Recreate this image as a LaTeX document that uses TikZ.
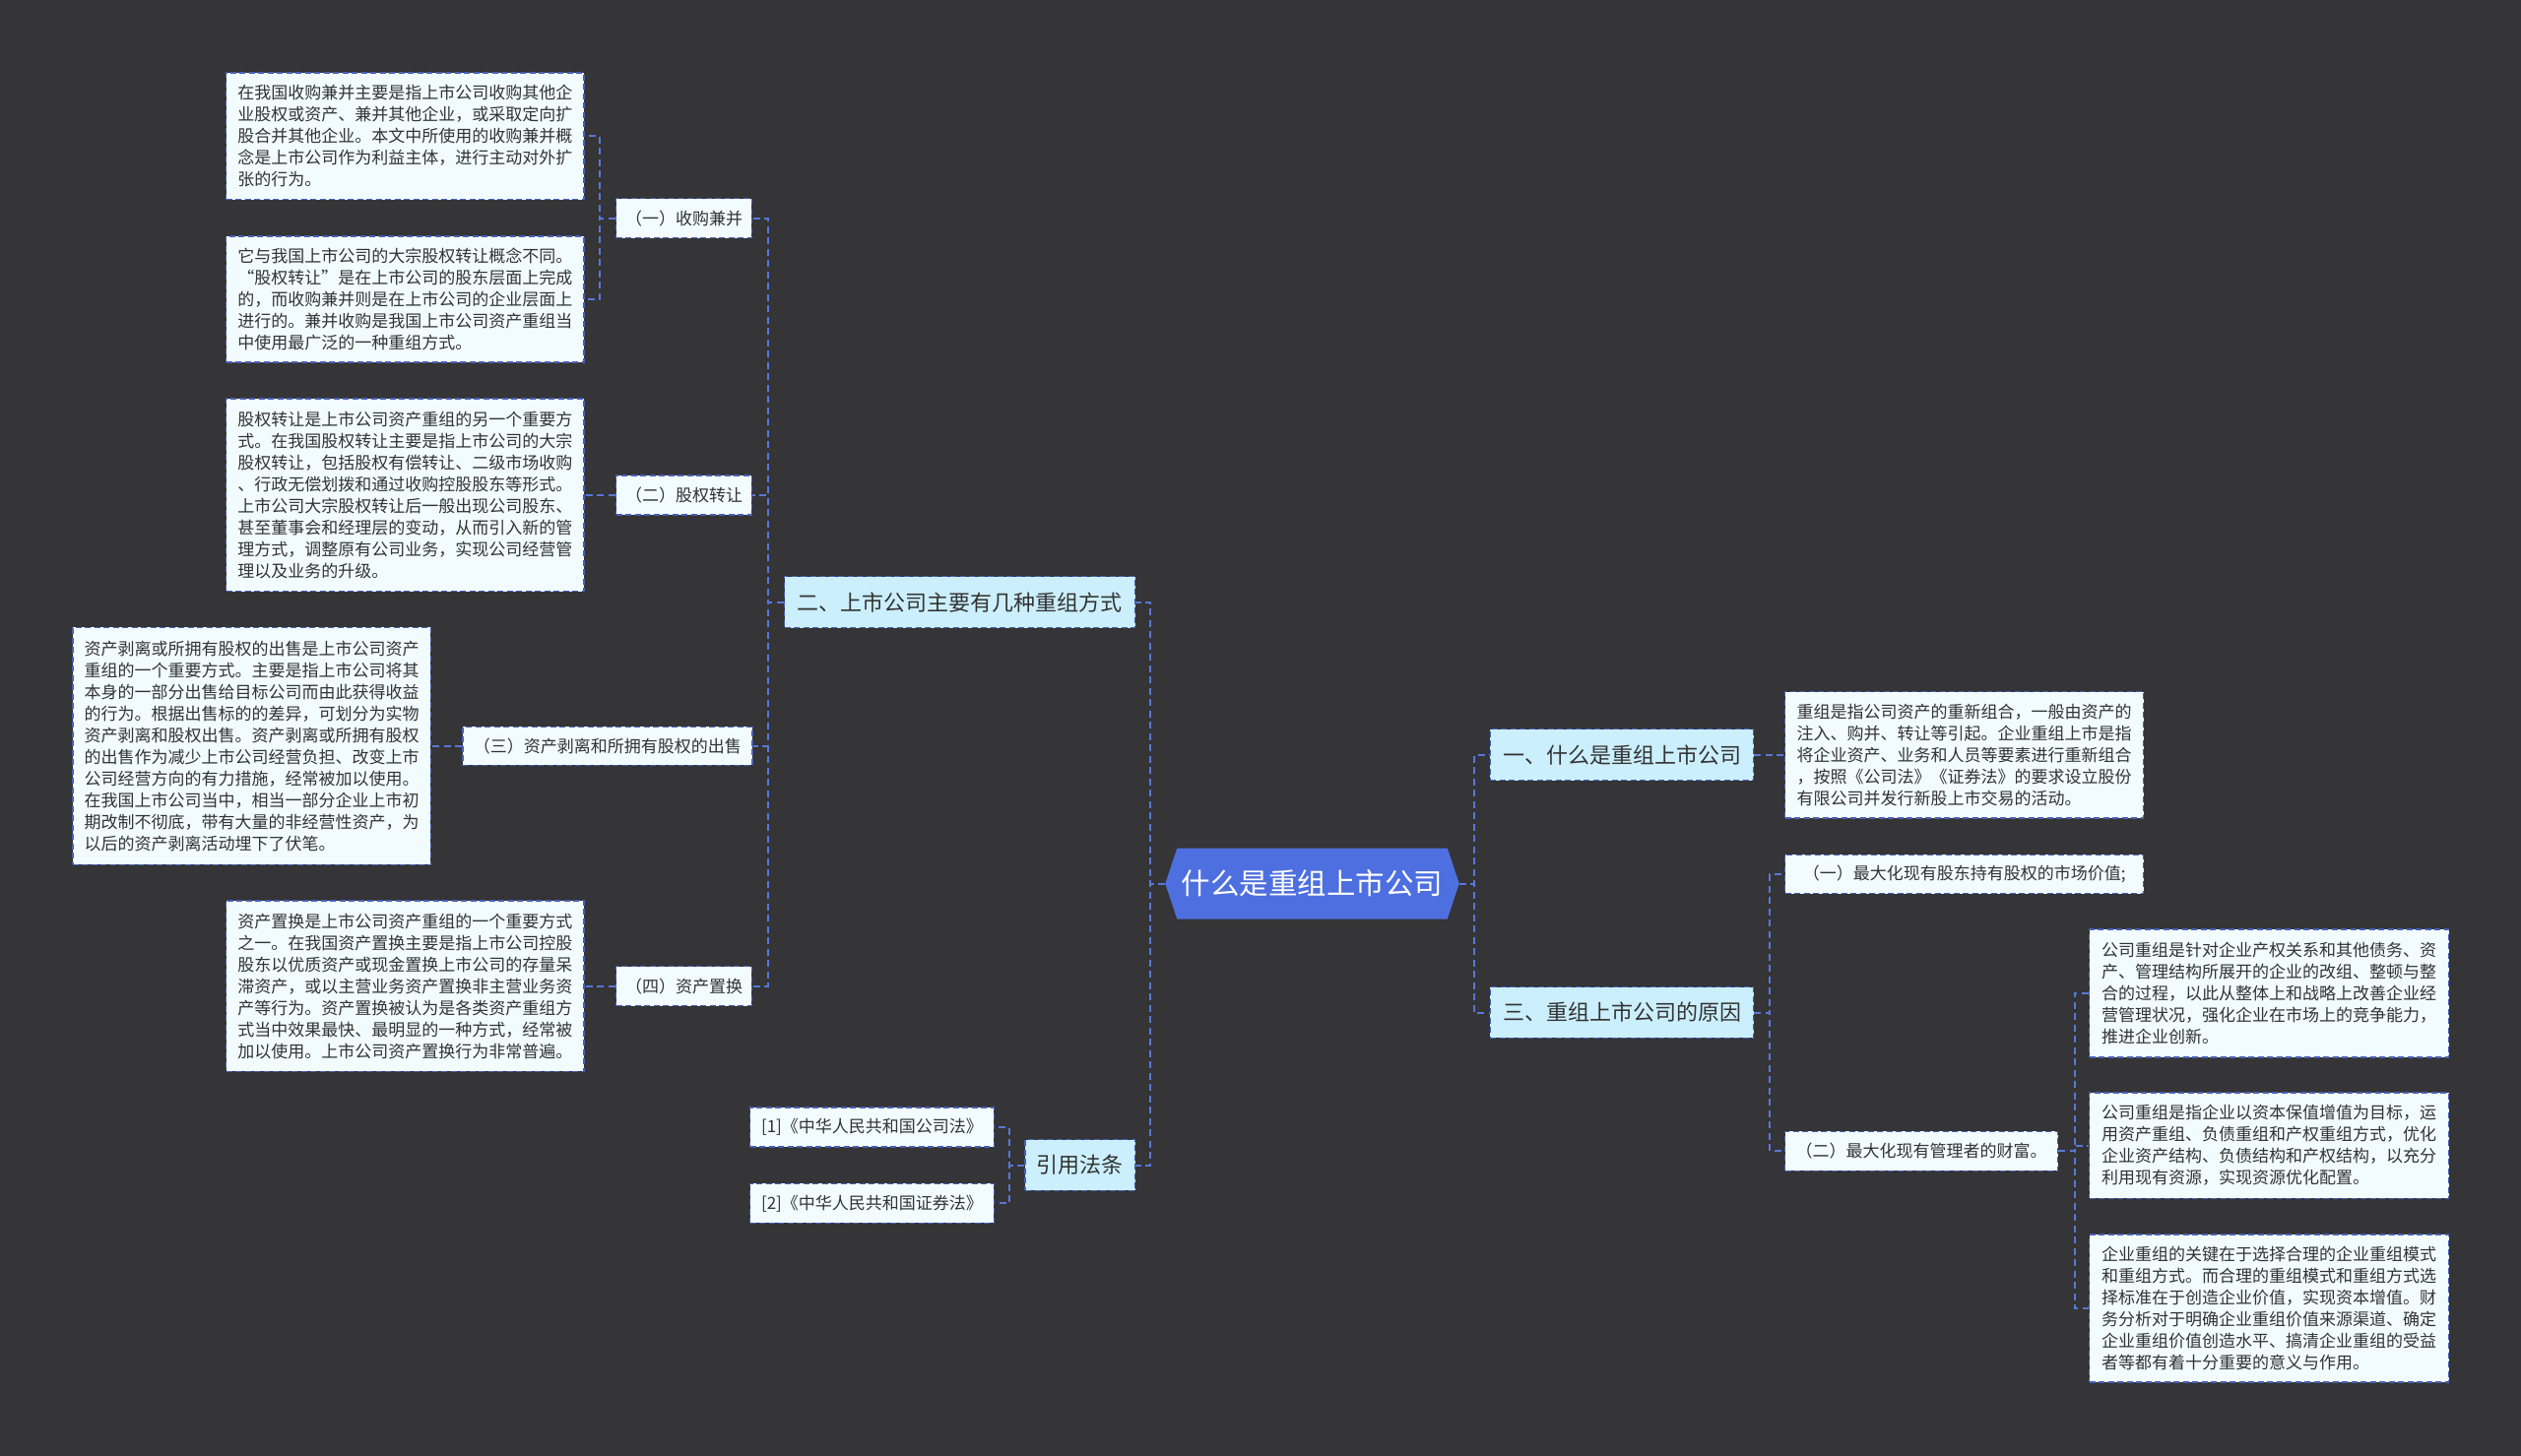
\documentclass[tikz,border=0pt]{standalone}
\usepackage{fontspec}
\newfontfamily\cjk{Noto Sans CJK SC}
\usetikzlibrary{backgrounds}
\definecolor{bgc}{HTML}{353436}
\definecolor{leaffill}{HTML}{F2FBFE}
\definecolor{lonefill}{HTML}{CBEFFC}
\definecolor{rootfill}{HTML}{4E6FDF}
\definecolor{bordc}{HTML}{4660B8}
\definecolor{connc}{HTML}{5877DA}
\definecolor{txt}{HTML}{333333}
\tikzset{
  box/.style={draw=bordc, line width=1.5pt, dash pattern=on 6pt off 3.5pt, inner sep=0pt, text=txt},
  leaf/.style={box, fill=leaffill, align=left, font=\cjk\fontsize{17}{22}\selectfont},
  subbox/.style={box, fill=leaffill, align=center, font=\cjk\fontsize{17}{22}\selectfont},
  lvlbox/.style={box, fill=lonefill, align=center, font=\cjk\fontsize{22}{26}\selectfont},
  rootbox/.style={inner sep=0pt, text=white, font=\cjk\fontsize{29.5}{34}\selectfont},
  conn/.style={draw=connc, line width=2pt, dash pattern=on 7pt off 4.5pt},
}
\begin{document}
\begin{tikzpicture}[x=1pt,y=-1pt]
\useasboundingbox (0,0) rectangle (2560,1479);
\begin{scope}[on background layer]
\fill[bgc] (0,0) rectangle (2560,1479);
\end{scope}

% root
\node[rootbox, minimum width=298.1pt, minimum height=71.6pt] (root) at (1332.55,897.5) {什么是重组上市公司};
\begin{scope}[on background layer]
\fill[rootfill] (root.west) -- ([xshift=12pt]root.north west) -- ([xshift=-12pt]root.north east) -- (root.east) -- ([xshift=-12pt]root.south east) -- ([xshift=12pt]root.south west) -- cycle;
\end{scope}

% level 1
\node[lvlbox, minimum width=355.8pt, minimum height=52pt] (L1) at (974.6,611.7) {二、上市公司主要有几种重组方式};
\node[lvlbox, minimum width=111.7pt, minimum height=51.6pt] (L2) at (1096.85,1183.5) {引用法条};
\node[lvlbox, minimum width=267.4pt, minimum height=52pt] (R1) at (1647,766.7) {一、什么是重组上市公司};
\node[lvlbox, minimum width=267.4pt, minimum height=51.6pt] (R3) at (1647,1028.5) {三、重组上市公司的原因};

% level 2 left
\node[subbox, minimum width=137.7pt, minimum height=40pt] (N1) at (694.55,221.7) {（一）收购兼并};
\node[subbox, minimum width=137.7pt, minimum height=40pt] (N2) at (694.55,502.85) {（二）股权转让};
\node[subbox, minimum width=293.9pt, minimum height=39pt] (N3) at (616.95,757.8) {（三）资产剥离和所拥有股权的出售};
\node[subbox, minimum width=137.7pt, minimum height=40pt] (N4) at (694.55,1001.65) {（四）资产置换};

% refs
\node[subbox, minimum width=247.6pt, minimum height=40pt] (Ref1) at (885.5,1145) {{[1]}《中华人民共和国公司法》};
\node[subbox, minimum width=247.6pt, minimum height=40pt] (Ref2) at (885.5,1222.3) {{[2]}《中华人民共和国证券法》};

% leaves left
\node[leaf, minimum width=363.4pt, minimum height=128.7pt] (A1) at (411.3,138.35) {在我国收购兼并主要是指上市公司收购其他企\\业股权或资产、兼并其他企业，或采取定向扩\\股合并其他企业。本文中所使用的收购兼并概\\念是上市公司作为利益主体，进行主动对外扩\\张的行为。};
\node[leaf, minimum width=363.4pt, minimum height=128pt] (A2) at (411.3,304) {它与我国上市公司的大宗股权转让概念不同。\\“股权转让”是在上市公司的股东层面上完成\\的，而收购兼并则是在上市公司的企业层面上\\进行的。兼并收购是我国上市公司资产重组当\\中使用最广泛的一种重组方式。};
\node[leaf, minimum width=363.4pt, minimum height=195.7pt] (B1) at (411.3,502.85) {股权转让是上市公司资产重组的另一个重要方\\式。在我国股权转让主要是指上市公司的大宗\\股权转让，包括股权有偿转让、二级市场收购\\、行政无偿划拨和通过收购控股股东等形式。\\上市公司大宗股权转让后一般出现公司股东、\\甚至董事会和经理层的变动，从而引入新的管\\理方式，调整原有公司业务，实现公司经营管\\理以及业务的升级。};
\node[leaf, minimum width=363.6pt, minimum height=241pt] (C1) at (255.6,757.8) {资产剥离或所拥有股权的出售是上市公司资产\\重组的一个重要方式。主要是指上市公司将其\\本身的一部分出售给目标公司而由此获得收益\\的行为。根据出售标的的差异，可划分为实物\\资产剥离和股权出售。资产剥离或所拥有股权\\的出售作为减少上市公司经营负担、改变上市\\公司经营方向的有力措施，经常被加以使用。\\在我国上市公司当中，相当一部分企业上市初\\期改制不彻底，带有大量的非经营性资产，为\\以后的资产剥离活动埋下了伏笔。};
\node[leaf, minimum width=363.4pt, minimum height=173.3pt] (D1) at (411.3,1001.65) {资产置换是上市公司资产重组的一个重要方式\\之一。在我国资产置换主要是指上市公司控股\\股东以优质资产或现金置换上市公司的存量呆\\滞资产，或以主营业务资产置换非主营业务资\\产等行为。资产置换被认为是各类资产重组方\\式当中效果最快、最明显的一种方式，经常被\\加以使用。上市公司资产置换行为非常普遍。};

% right side
\node[leaf, minimum width=364pt, minimum height=128.3pt] (R1a) at (1994.7,766.7) {重组是指公司资产的重新组合，一般由资产的\\注入、购并、转让等引起。企业重组上市是指\\将企业资产、业务和人员等要素进行重新组合\\，按照《公司法》《证券法》的要求设立股份\\有限公司并发行新股上市交易的活动。};
\node[subbox, minimum width=364pt, minimum height=39.4pt] (R3a) at (1994.7,888) {（一）最大化现有股东持有股权的市场价值;};
\node[subbox, minimum width=276.8pt, minimum height=40pt] (R3b) at (1951.1,1169.3) {（二）最大化现有管理者的财富。};
\node[leaf, minimum width=365pt, minimum height=130pt] (R3b1) at (2304.2,1009) {公司重组是针对企业产权关系和其他债务、资\\产、管理结构所展开的企业的改组、整顿与整\\合的过程，以此从整体上和战略上改善企业经\\营管理状况，强化企业在市场上的竞争能力，\\推进企业创新。};
\node[leaf, minimum width=365pt, minimum height=107.3pt] (R3b2) at (2304.2,1163.65) {公司重组是指企业以资本保值增值为目标，运\\用资产重组、负债重组和产权重组方式，优化\\企业资产结构、负债结构和产权结构，以充分\\利用现有资源，实现资源优化配置。};
\node[leaf, minimum width=365pt, minimum height=150pt] (R3b3) at (2304.2,1329) {企业重组的关键在于选择合理的企业重组模式\\和重组方式。而合理的重组模式和重组方式选\\择标准在于创造企业价值，实现资本增值。财\\务分析对于明确企业重组价值来源渠道、确定\\企业重组价值创造水平、搞清企业重组的受益\\者等都有着十分重要的意义与作用。};

% connectors
\draw[conn] (root.west) -- ++(-15,0) |- (L1.east);
\draw[conn] (root.west) -- ++(-15,0) |- (L2.east);
\draw[conn] (root.east) -- ++(15,0) |- (R1.west);
\draw[conn] (root.east) -- ++(15,0) |- (R3.west);
\draw[conn] (L1.west) -- ++(-16,0) |- (N1.east);
\draw[conn] (L1.west) -- ++(-16,0) |- (N2.east);
\draw[conn] (L1.west) -- ++(-16,0) |- (N3.east);
\draw[conn] (L1.west) -- ++(-16,0) |- (N4.east);
\draw[conn] (N1.west) -- ++(-16,0) |- (A1.east);
\draw[conn] (N1.west) -- ++(-16,0) |- (A2.east);
\draw[conn] (N2.west) -- (B1.east);
\draw[conn] (N3.west) -- (C1.east);
\draw[conn] (N4.west) -- (D1.east);
\draw[conn] (L2.west) -- ++(-15.3,0) |- (Ref1.east);
\draw[conn] (L2.west) -- ++(-15.3,0) |- (Ref2.east);
\draw[conn] (R1.east) -- (R1a.west);
\draw[conn] (R3.east) -- ++(16,0) |- (R3a.west);
\draw[conn] (R3.east) -- ++(16,0) |- (R3b.west);
\draw[conn] (R3b.east) -- ++(16.5,0) |- (R3b1.west);
\draw[conn] (R3b.east) -- ++(16.5,0) |- (R3b2.west);
\draw[conn] (R3b.east) -- ++(16.5,0) |- (R3b3.west);
\end{tikzpicture}
\end{document}
